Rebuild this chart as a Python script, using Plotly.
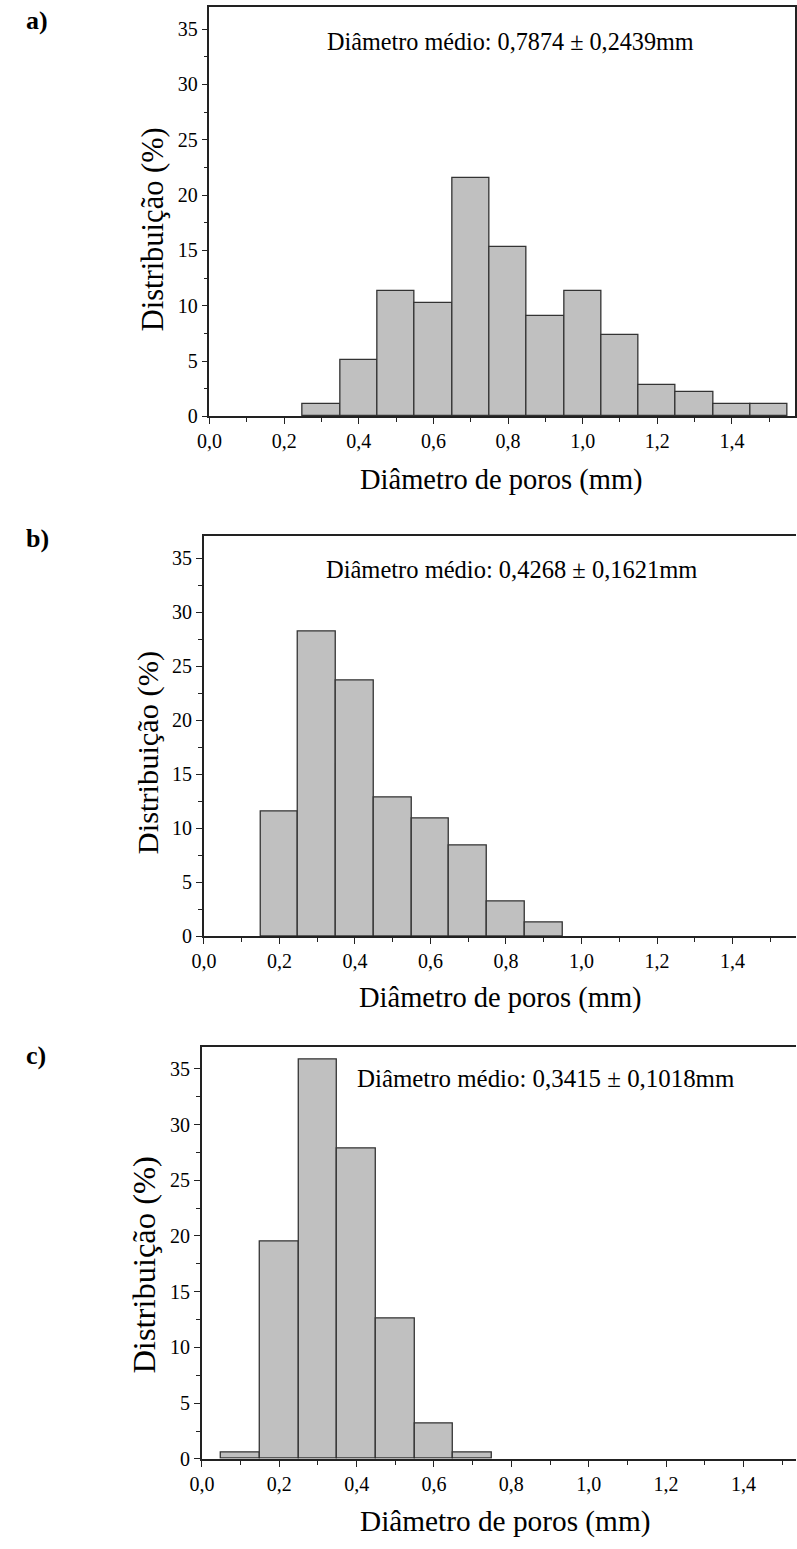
import plotly.graph_objects as go

# ---------------- data ----------------
bins_a = [0.3, 0.4, 0.5, 0.6, 0.7, 0.8, 0.9, 1.0, 1.1, 1.2, 1.3, 1.4, 1.5]
dist_a = [1.13, 5.11, 11.33, 10.25, 21.55, 15.34, 9.06, 11.33, 7.35, 2.83, 2.24, 1.10, 1.10]

bins_b = [0.2, 0.3, 0.4, 0.5, 0.6, 0.7, 0.8, 0.9]
dist_b = [11.57, 28.19, 23.69, 12.87, 10.91, 8.34, 3.22, 1.29]

bins_c = [0.1, 0.2, 0.3, 0.4, 0.5, 0.6, 0.7]
dist_c = [0.53, 19.52, 35.80, 27.86, 12.62, 3.15, 0.53]

labels = ["a)", "b)", "c)"]
means = ["Diâmetro médio: 0,7874 ± 0,2439mm",
         "Diâmetro médio: 0,4268 ± 0,1621mm",
         "Diâmetro médio: 0,3415 ± 0,1018mm"]
xtitle = "Diâmetro de poros (mm)"
ytitle = "Distribuição (%)"
bin_width = 0.1

W, H = 797, 1549
FONT = "Liberation Serif"

def px(x):
    return x / W

def py(y):
    return 1 - y / H

# panel geometry (pixels): left, right, top, bottom, xmax
panels = [
    dict(l=200, r=796, t=7, b=419.3, xmax=1.569, mirror_y=True),
    dict(l=194.3, r=797, t=540.3, b=942.7, xmax=1.568, mirror_y=False),
    dict(l=192.3, r=797, t=1054, b=1469.3, xmax=1.536, mirror_y=False),
]
series = [(bins_a, dist_a), (bins_b, dist_b), (bins_c, dist_c)]

fig = go.Figure()
axis_color = "#222222"

for i, (p, (bx, by)) in enumerate(zip(panels, series)):
    n = "" if i == 0 else str(i + 1)
    fig.add_trace(go.Bar(
        x=bx, y=by, width=bin_width,
        marker=dict(color="#c0c0c0", line=dict(color="#333333", width=1.3)),
        xaxis="x" + n, yaxis="y" + n, showlegend=False,
    ))
    fig.layout["xaxis" + n] = dict(
        domain=[px(p["l"]), px(p["r"])], range=[0, p["xmax"]],
        anchor="y" + n, showgrid=False, zeroline=False,
        showline=True, linecolor=axis_color, linewidth=1.6, mirror=True,
        ticks="outside", ticklen=6, tickwidth=1.3, tickcolor=axis_color,
        tick0=0, dtick=0.2, tickformat=".1f",
        minor=dict(ticks="outside", dtick=0.1, tick0=0, ticklen=4, tickwidth=1.2, tickcolor=axis_color),
        tickfont=dict(family=FONT, size=20, color="black"),
    )
    fig.layout["yaxis" + n] = dict(
        domain=[py(p["b"]), py(p["t"])], range=[0, 37],
        anchor="x" + n, showgrid=False, zeroline=False,
        showline=True, linecolor=axis_color, linewidth=1.6, mirror=p["mirror_y"],
        ticks="outside", ticklen=6, tickwidth=1.3, tickcolor=axis_color,
        tick0=0, dtick=5,
        minor=dict(ticks="outside", dtick=2.5, tick0=0, ticklen=4, tickwidth=1.2, tickcolor=axis_color),
        tickfont=dict(family=FONT, size=20, color="black"),
    )

ann = []
# panel letters
for lab, yc in zip(labels, [21, 542, 1063]):
    ann.append(dict(text="<b>%s</b>" % lab, x=px(11), y=py(yc), xref="paper", yref="paper",
                    xanchor="left", yanchor="middle", showarrow=False,
                    font=dict(family=FONT, size=26, color="black")))
# mean text
for txt, (xl, yc, fs) in zip(means, [(318, 42, 24.2), (316.7, 574, 24.5), (348.3, 1086, 24.9)]):
    ann.append(dict(text=txt, x=px(xl), y=py(yc), xref="paper", yref="paper",
                    xanchor="left", yanchor="middle", showarrow=False,
                    font=dict(family=FONT, size=fs, color="black")))
# x titles
for xc, yc, fs in [(497, 483, 28.5), (496, 1005, 28.5), (501, 1532, 29.3)]:
    ann.append(dict(text=xtitle, x=px(xc), y=py(yc), xref="paper", yref="paper",
                    xanchor="center", yanchor="middle", showarrow=False,
                    font=dict(family=FONT, size=fs, color="black")))
# y titles
for xc, yc, fs in [(142.5, 231, 30.5), (137, 758, 30.4), (133, 1274, 32.5)]:
    ann.append(dict(text=ytitle, x=px(xc), y=py(yc), xref="paper", yref="paper",
                    xanchor="center", yanchor="middle", showarrow=False, textangle=-90,
                    font=dict(family=FONT, size=fs, color="black")))

fig.update_layout(
    width=W, height=H, margin=dict(l=0, r=0, t=0, b=0),
    paper_bgcolor="white", plot_bgcolor="white",
    separators=", ", bargap=0,
    font=dict(family=FONT, color="black"),
    annotations=ann,
)

fig.write_html("out.html")
